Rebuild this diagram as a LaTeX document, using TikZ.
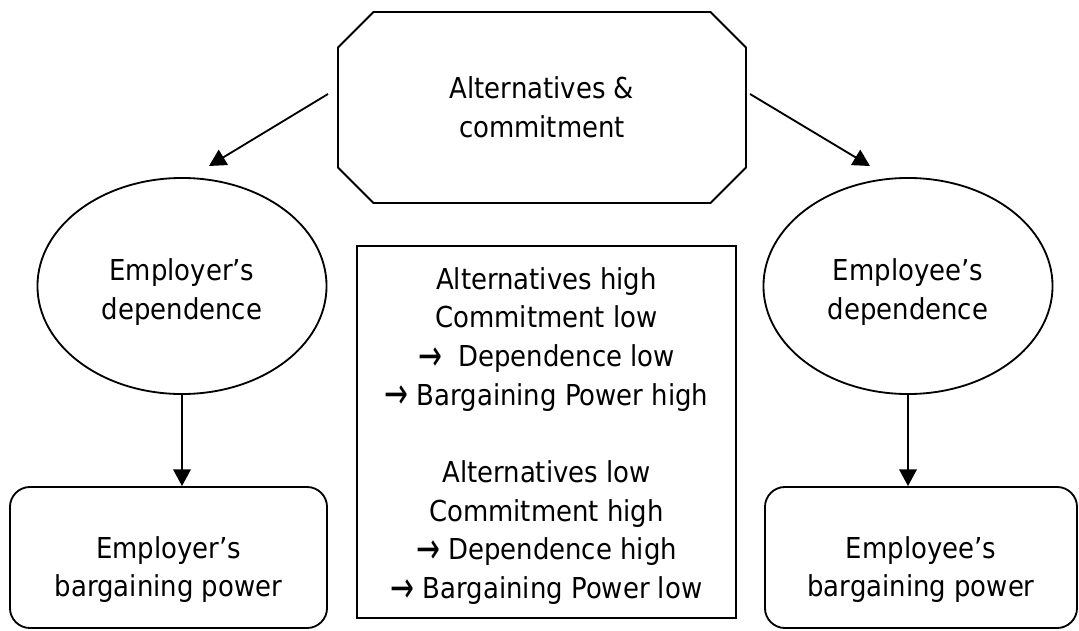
\documentclass[tikz,border=0pt]{standalone}
\usepackage{fontspec}
\setmainfont{DejaVu Sans}[FakeStretch=0.9]
\usetikzlibrary{shapes.geometric,shapes.misc,arrows.meta}
\newcommand\imp{\raisebox{-0.12em}{\scalebox{1.1}[1.5]{→}}}
\tikzset{
  box/.style={draw,line width=1.3pt,align=center,inner sep=0pt},
  link/.style={line width=1.3pt,-{Triangle[length=4.2mm,width=4.4mm]}}
}
\begin{document}
\begin{tikzpicture}[x=0.025cm,y=-0.025cm,font=\fontsize{20.5}{27.5}\selectfont]
\useasboundingbox (0,0) rectangle (1079,631);
\node[box,chamfered rectangle,chamfered rectangle xsep=1.4cm,minimum width=10.2cm,minimum height=4.775cm] (alt) at (542,107.5) {Alternatives \&\\commitment};
\node[box,ellipse,minimum width=7.225cm,minimum height=5.4cm,label={[align=center,yshift=-0.15cm]center:Employer’s\\dependence}] (depL) at (182,286) {};
\node[box,ellipse,minimum width=7.225cm,minimum height=5.4cm,label={[align=center,yshift=-0.15cm]center:Employee’s\\dependence}] (depR) at (908,286) {};
\node[box,rounded corners=0.5cm,minimum width=7.925cm,minimum height=3.525cm,label={[align=center,yshift=-0.3cm]center:Employer’s\\bargaining power}] (powL) at (168.5,557.5) {};
\node[box,rounded corners=0.5cm,minimum width=7.8cm,minimum height=3.525cm,label={[align=center,yshift=-0.3cm]center:Employee’s\\bargaining power}] (powR) at (921,557.5) {};
\node[box,minimum width=9.475cm,minimum height=9.3cm,label={[align=center,yshift=-0.1cm]center:Alternatives high\\Commitment low\\\imp\ \ Dependence low\\\imp\ Bargaining Power high\\[27.5pt]Alternatives low\\Commitment high\\\imp\ Dependence high\\\imp\ Bargaining Power low}] (rule) at (546.5,432) {};
\coordinate (a1) at (328,94);
\coordinate (a2) at (209,166);
\coordinate (b1) at (750,94);
\coordinate (b2) at (870,166);
\draw[link] (a1) -- (a2);
\draw[link] (b1) -- (b2);
\draw[link] (depL.south) -- (depL.south |- powL.north);
\draw[link] (depR.south) -- (depR.south |- powR.north);
\end{tikzpicture}
\end{document}
